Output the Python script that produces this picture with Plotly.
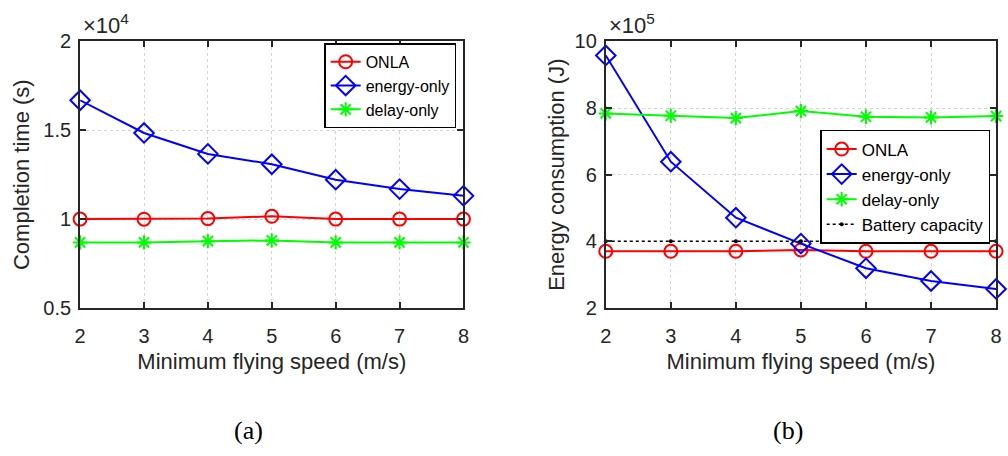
import plotly.graph_objects as go

W, H = 1008, 456

speeds = [2, 3, 4, 5, 6, 7, 8]

# (a) Completion time (s)
time_onla = [10000, 9995, 10030, 10160, 10000, 10000, 10000]
time_energy = [16690, 14850, 13670, 13090, 12220, 11690, 11310]
time_delay = [8690, 8690, 8760, 8800, 8690, 8690, 8690]

# (b) Energy consumption (J)
energy_onla = [370000, 370000, 370000, 374000, 370000, 370000, 370000]
energy_energy = [958000, 639000, 471000, 393000, 319000, 281000, 257000]
energy_delay = [784000, 777000, 770000, 791000, 774000, 772000, 776000]
battery = [400000] * 7

series_names = ["ONLA", "energy-only", "delay-only", "Battery capacity"]

ytick_a_vals = [5000, 10000, 15000, 20000]
ytick_a_text = ["0.5", "1", "1.5", "2"]
ytick_b_vals = [200000, 400000, 600000, 800000, 1000000]
ytick_b_text = ["2", "4", "6", "8", "10"]

FONT = "Liberation Sans, Arial, sans-serif"
TXT = "#262626"

def px_x(v):
    return v / W

def px_y(v):
    return 1 - v / H

fig = go.Figure()

styles = [
    dict(color="#ff0000", symbol="circle-open", size=13),
    dict(color="#0000ff", symbol="diamond-open", size=15),
    dict(color="#00ff00", symbol="asterisk-open", size=12),
]

for i, (ys, st) in enumerate(zip([time_onla, time_energy, time_delay], styles)):
    fig.add_trace(go.Scatter(
        x=speeds, y=ys, name=series_names[i], mode="lines+markers",
        line=dict(color=st["color"], width=2),
        marker=dict(symbol=st["symbol"], size=st["size"], color=st["color"],
                    line=dict(width=2, color=st["color"])),
        xaxis="x", yaxis="y", legend="legend", cliponaxis=False,
    ))

for i, (ys, st) in enumerate(zip([energy_onla, energy_energy, energy_delay], styles)):
    fig.add_trace(go.Scatter(
        x=speeds, y=ys, name=series_names[i], mode="lines+markers",
        line=dict(color=st["color"], width=2),
        marker=dict(symbol=st["symbol"], size=st["size"], color=st["color"],
                    line=dict(width=2, color=st["color"])),
        xaxis="x2", yaxis="y2", legend="legend2", cliponaxis=False,
    ))

fig.add_trace(go.Scatter(
    x=speeds, y=battery, name=series_names[3], mode="lines+markers",
    line=dict(color="#000000", width=1.5, dash="dot"),
    marker=dict(symbol="circle", size=4, color="#000000"),
    xaxis="x2", yaxis="y2", legend="legend2", cliponaxis=False,
))

ax_common = dict(
    showline=True, linecolor=TXT, linewidth=2, mirror="ticks",
    ticks="inside", ticklen=6, tickwidth=1.5, tickcolor=TXT,
    showgrid=True, gridcolor="#d4d4d4", griddash="dot", gridwidth=1,
    zeroline=False,
    tickfont=dict(family=FONT, size=20, color=TXT),
)

xtitle = dict(text="Minimum flying speed (m/s)", font=dict(size=22, family=FONT, color=TXT), standoff=8)

fig.update_layout(
    width=W, height=H,
    margin=dict(l=0, r=0, t=0, b=0),
    paper_bgcolor="white", plot_bgcolor="white",
    font=dict(family=FONT, color=TXT),
    xaxis=dict(domain=[px_x(75), px_x(463)], range=[2, 8], tickvals=speeds,
               title=xtitle, ticklabelstandoff=9,
               anchor="y", **ax_common),
    yaxis=dict(domain=[px_y(312), px_y(32)], range=[5000, 20000],
               tickvals=ytick_a_vals, ticktext=ytick_a_text, ticklabelstandoff=3,
               title=dict(text="Completion time (s)", font=dict(size=22, family=FONT, color=TXT), standoff=8),
               anchor="x", **ax_common),
    xaxis2=dict(domain=[px_x(607), px_x(1002)], range=[2, 8], tickvals=speeds,
                title=xtitle, ticklabelstandoff=9,
                anchor="y2", **ax_common),
    yaxis2=dict(domain=[px_y(312), px_y(32)], range=[200000, 1000000],
                tickvals=ytick_b_vals, ticktext=ytick_b_text, ticklabelstandoff=3,
                title=dict(text="Energy consumption (J)", font=dict(size=22, family=FONT, color=TXT), standoff=4),
                anchor="x2", **ax_common),
    legend=dict(x=px_x(322), y=px_y(34), xanchor="left", yanchor="top",
                bgcolor="white", bordercolor="#000000", borderwidth=1.5,
                font=dict(family=FONT, size=16, color="#000000"),
                tracegroupgap=0, itemwidth=30),
    legend2=dict(x=px_x(824), y=px_y(125), xanchor="left", yanchor="top",
                 bgcolor="white", bordercolor="#000000", borderwidth=1.5,
                 font=dict(family=FONT, size=17, color="#000000"),
                 tracegroupgap=0, itemwidth=30),
    showlegend=True,
    annotations=[
        dict(text="\u00d710<sup>4</sup>", x=px_x(76), y=px_y(30), xref="paper", yref="paper",
             xanchor="left", yanchor="bottom", showarrow=False,
             font=dict(family=FONT, size=22, color=TXT)),
        dict(text="\u00d710<sup>5</sup>", x=px_x(608), y=px_y(30), xref="paper", yref="paper",
             xanchor="left", yanchor="bottom", showarrow=False,
             font=dict(family=FONT, size=22, color=TXT)),
        dict(text="(a)", x=px_x(245), y=px_y(441), xref="paper", yref="paper",
             xanchor="center", yanchor="middle", showarrow=False,
             font=dict(family="Liberation Serif, DejaVu Serif, serif", size=26, color="#000000")),
        dict(text="(b)", x=px_x(791), y=px_y(441), xref="paper", yref="paper",
             xanchor="center", yanchor="middle", showarrow=False,
             font=dict(family="Liberation Serif, DejaVu Serif, serif", size=26, color="#000000")),
    ],
)

fig.write_html("out.html")
